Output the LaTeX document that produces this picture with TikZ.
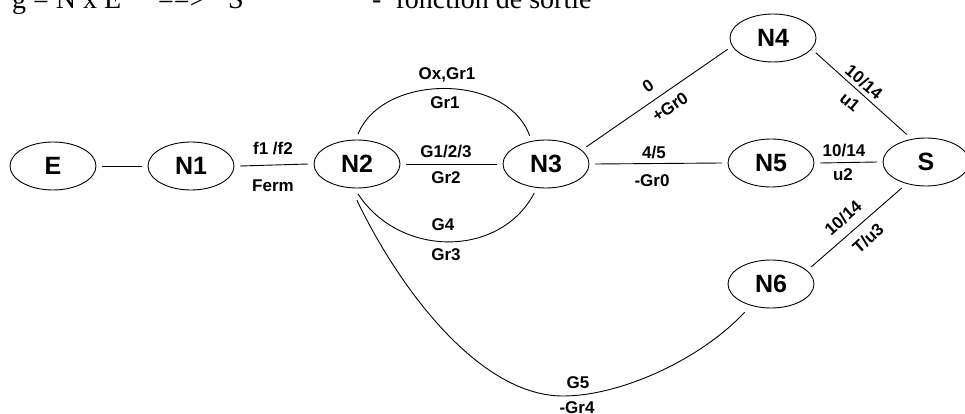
\documentclass[tikz,border=0pt]{standalone}
\usepackage{fontspec}
\usetikzlibrary{shapes.geometric}
\newfontfamily\lab{Liberation Sans}
\newfontfamily\topf{Liberation Serif}
\begin{document}
\begin{tikzpicture}[x=1pt,y=-1pt,
  nd/.style={ellipse, draw, line width=0.9pt, minimum width=86pt, minimum height=48pt,
    inner sep=0pt, outer sep=6pt, font=\lab\bfseries\fontsize{25}{25}\selectfont},
  con/.style={line width=0.9pt},
  lbl/.style={font=\lab\bfseries\fontsize{17}{17}\selectfont, inner sep=0pt},
  toptxt/.style={font=\topf\fontsize{28}{28}\selectfont, inner sep=0pt, anchor=base west}]
\useasboundingbox (0,0) rectangle (965,414);
\clip (0,0) rectangle (965,414);
% heading (cut off at the top)
\node[toptxt] (t1) at (12,9) {g = N x E};
\node[toptxt] (t2) at (158,9) {==>};
\node[toptxt] (t3) at (228,9) {S};
\node[toptxt] (t4) at (372,9) {-\ \ fonction de sortie};
% nodes
\node[nd] (E)  at (53,166)  {E};
\node[nd] (N1) at (191,166) {N1};
\node[nd] (N2) at (357,164) {N2};
\node[nd] (N3) at (546,164) {N3};
\node[nd] (N4) at (773,38)  {N4};
\node[nd] (N5) at (771,163) {N5};
\node[nd] (N6) at (771,284) {N6};
\node[nd] (S)  at (926,162) {S};
% connectors
\draw[con] (E.east) -- (N1.west);
\draw[con] (N1.east) -- (N2.west);
\draw[con] (N2.east) -- (N3.west);
\draw[con] (N2.88) .. controls (383,73) and (507,73) .. (N3.120);
\draw[con] (N2.-88) .. controls (400,258) and (500,258) .. (N3.-112);
\draw[con, shorten <=7pt, shorten >=3pt] (N2.264) .. controls (400,290) and (480,396) .. (563,396)
   .. controls (620,396) and (700,360) .. (N6.227);
\draw[con] (N3.23) -- (N4.194);
\draw[con] (N3.east) -- (N5.west);
\draw[con] (N4.-19) -- (S.125);
\draw[con] (N5.east) -- (S.west);
\draw[con] (N6.23) -- (S.227);
% labels
\node[lbl] (a1) at (273,149) {f1 /f2};
\node[lbl] (a2) at (273,186) {Ferm};
\node[lbl] (b1) at (447,75)  {Ox,Gr1};
\node[lbl] (b2) at (445,103) {Gr1};
\node[lbl] (c1) at (446,152) {G1/2/3};
\node[lbl] (c2) at (446,178) {Gr2};
\node[lbl] (d1) at (443,225) {G4};
\node[lbl] (d2) at (446,255) {Gr3};
\node[lbl] (e1) at (578,383) {G5};
\node[lbl] (e2) at (577,408) {-Gr4};
\node[lbl, rotate=34] (f1) at (648,86)  {0};
\node[lbl, rotate=34] (f2) at (670,107) {+Gr0};
\node[lbl] (g1) at (654,153) {4/5};
\node[lbl] (g2) at (652,181) {-Gr0};
\node[lbl, rotate=-40] (h1) at (864,82)  {10/14};
\node[lbl, rotate=-40] (h2) at (850,102) {u1};
\node[lbl] (i1) at (844,151) {10/14};
\node[lbl] (i2) at (843,175) {u2};
\node[lbl, rotate=42] (j1) at (843,218) {10/14};
\node[lbl, rotate=42] (j2) at (868,238) {T/u3};
\end{tikzpicture}
\end{document}
